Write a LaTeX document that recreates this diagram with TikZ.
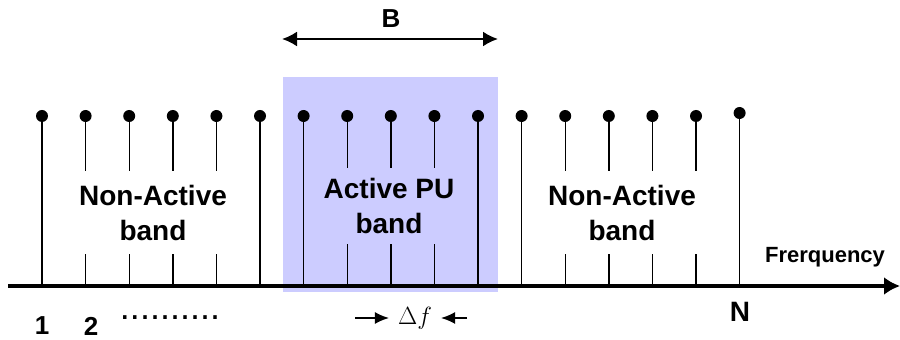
\documentclass[tikz,border=0pt]{standalone}
\usepackage{fontspec}
\setmainfont{Liberation Sans}
\usetikzlibrary{arrows.meta,positioning}
\definecolor{BandBlue}{HTML}{CCCCFF}

\begin{document}
\begin{tikzpicture}[
  x=1pt,y=1pt,
  every node/.style={font=\bfseries\fontsize{28}{35}\selectfont,align=center,inner sep=0pt},
  stem/.style={line width=1.4pt},
  tipdot/.style={circle,fill=black,minimum size=12pt,inner sep=0pt},
  lbl/.style={fill=white,inner xsep=4pt,minimum height=83pt},
  tag/.style={font=\bfseries\fontsize{26}{30}\selectfont},
  axarr/.style={-{Latex[length=16pt,width=18pt]},line width=4.5pt},
  dimarr/.style={{Latex[length=15pt,width=15pt]}-{Latex[length=15pt,width=15pt]},line width=2.2pt},
  sarr/.style={-{Latex[length=14pt,width=12pt]},line width=1.4pt}
]
  \useasboundingbox (0,0) rectangle (900,340);
  % active band
  \fill[BandBlue] (283,48) rectangle (498,263);
  % subcarriers
  \foreach \i in {1,...,17} {
    \pgfmathsetmacro{\dy}{ifthenelse(\i==17,227,224)}
    \coordinate (s\i) at ({42+43.6*(\i-1)},54);
    \node[tipdot] (d\i) at ({42+43.6*(\i-1)},\dy) {};
    \draw[stem] (s\i) -- (d\i.center);
  }
  % frequency axis
  \coordinate (ax0) at (8,54);
  \coordinate (ax1) at (900,54);
  \draw[axarr] (ax0) -- (ax1);
  % band labels
  \node[lbl] (nal) at (153,127) {Non-Active\\band};
  \node[lbl,fill=BandBlue,minimum height=76pt] (apu) at (389,134) {Active PU\\band};
  \node[lbl] (nar) at (622,127) {Non-Active\\band};
  % bandwidth
  \coordinate (bl) at (282,301);
  \coordinate (br) at (498,301);
  \draw[dimarr] (bl) -- (br);
  \node[tag] (bw) at (391,321) {B};
  % indices
  \node[tag] (n1) at (42,14) {1};
  \node[tag] (n2) at (91,14) {2};
  \node[font=\mdseries\fontsize{36}{40}\selectfont] (dots) at (170,22) {..........};
  \node (nN) at (740,28) {N};
  \node[font=\bfseries\fontsize{22}{26}\selectfont] (freq) at (825,83) {Frerquency};
  % spacing
  \node[font=\normalfont\fontsize{26}{30}\selectfont,inner xsep=9pt] (df) at (415,22) {$\Delta f$};
  \coordinate (dfa) at (355,22);
  \coordinate (dfb) at (467,22);
  \draw[sarr] (dfa) -- (df);
  \draw[sarr] (dfb) -- (df);
\end{tikzpicture}
\end{document}
